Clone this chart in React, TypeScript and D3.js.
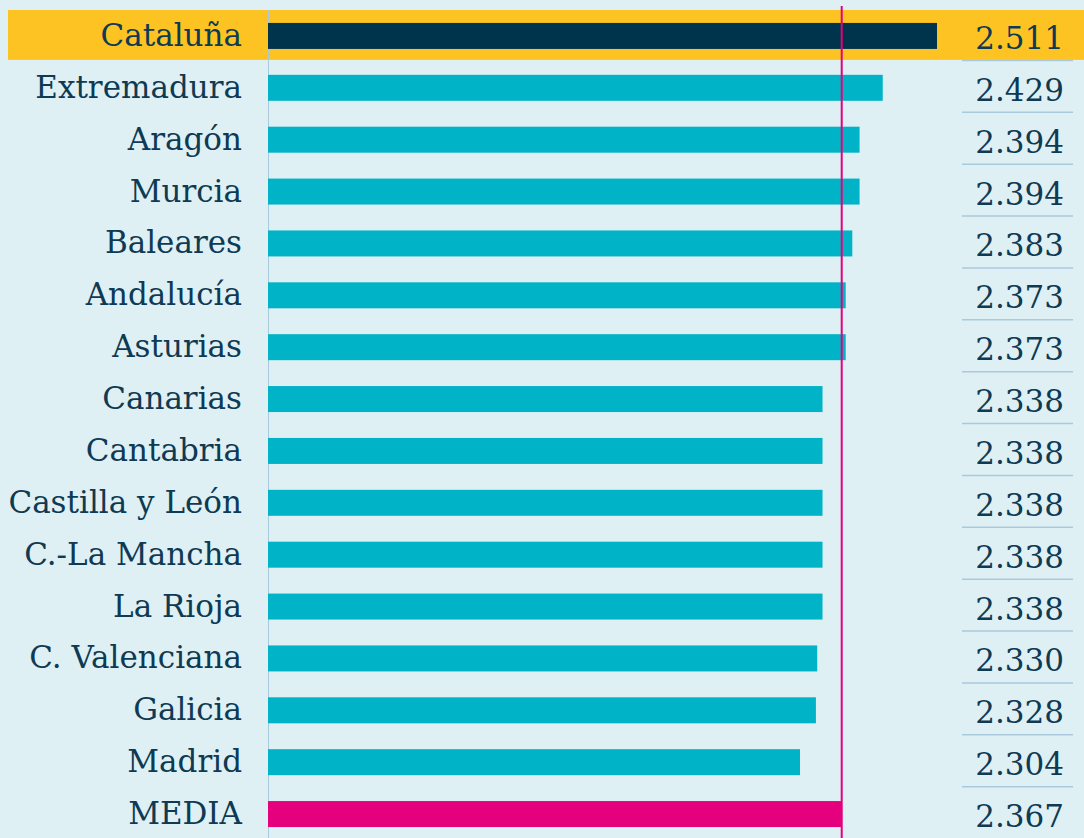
import React from "react";
import * as d3 from "d3";

const regions: string[] = [
  "Cataluña", "Extremadura", "Aragón", "Murcia", "Baleares", "Andalucía", "Asturias",
  "Canarias", "Cantabria", "Castilla y León", "C.-La Mancha", "La Rioja",
  "C. Valenciana", "Galicia", "Madrid", "MEDIA",
];
const values: number[] = [
  2.511, 2.429, 2.394, 2.394, 2.383, 2.373, 2.373, 2.338, 2.338, 2.338, 2.338, 2.338,
  2.330, 2.328, 2.304, 2.367,
];
const highlight = "Cataluña";
const average = "MEDIA";
const averageValue = 2.367;

const W = 1084;
const H = 838;
const FONT = "'DejaVu Serif', serif";
const TEXT = "#0e3a53";

export default function App() {
  const x = d3.scaleLinear().domain([1.5, 2.511]).range([268, 937]);
  const y = d3.scaleBand<string>().domain(regions).range([10, 840]).padding(0);
  const bw = y.bandwidth();
  const barH = 26;
  const fmt = (v: number) => d3.format(".3f")(v);

  return (
    <div style={{ position: "absolute", left: 0, top: 0, width: W, height: H }}>
      <svg width={W} height={H} style={{ display: "block" }}>
        <rect x={0} y={0} width={W} height={H} fill="#dff0f5" />
        {regions.map((r) =>
          r === highlight ? (
            <rect key={"hl" + r} x={8} y={y(r)!} width={W - 8} height={bw - 2} fill="#fdc322" />
          ) : null
        )}
        <line x1={268.5} x2={268.5} y1={10} y2={H} stroke="#a9c9dc" strokeWidth={1} />
        {regions.map((r, i) => {
          const cy = y(r)! + bw / 2;
          const fill = r === highlight ? "#00344d" : r === average ? "#e5007d" : "#00b3c7";
          return (
            <g key={r}>
              <rect x={x(1.5)} y={cy - barH / 2} width={x(values[i]) - x(1.5)} height={barH} fill={fill} />
              <text x={242} y={cy + 10} textAnchor="end" fontFamily={FONT} fontSize={31} fill={TEXT}>
                {r}
              </text>
              <text x={1064} y={cy + 13} textAnchor="end" fontFamily={FONT} fontSize={31} fill={TEXT}>
                {fmt(values[i])}
              </text>
              {i < regions.length - 1 ? (
                <line x1={962} x2={1073} y1={y(r)! + bw - 1.5} y2={y(r)! + bw - 1.5} stroke="#a9c9dc" strokeWidth={1.5} />
              ) : null}
            </g>
          );
        })}
        <line x1={x(averageValue)} x2={x(averageValue)} y1={6} y2={H} stroke="#e5007d" strokeWidth={2} />
      </svg>
    </div>
  );
}
